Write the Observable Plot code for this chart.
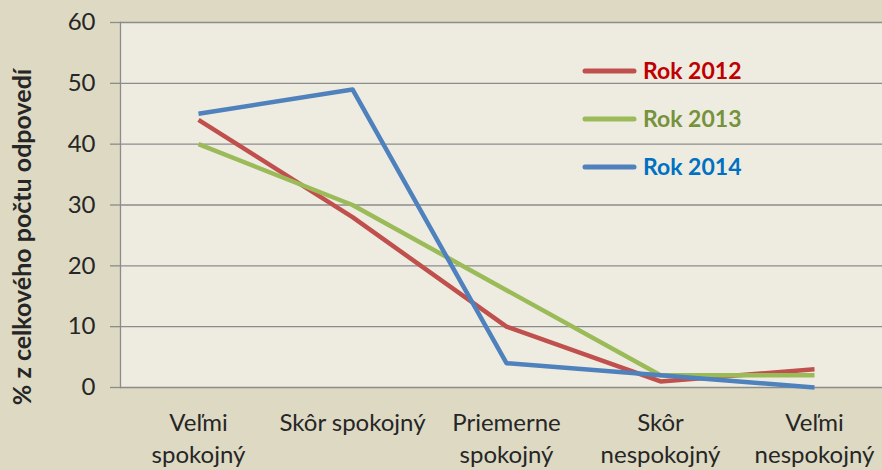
<!DOCTYPE html>
<html><head><meta charset="utf-8">
<script src="https://cdn.jsdelivr.net/npm/d3@7"></script>
<script src="https://cdn.jsdelivr.net/npm/@observablehq/plot@0.6"></script>
<style>
html,body{margin:0;padding:0;background:#DDD9C3;}
svg{display:block;}
</style>
</head><body>
<div id="chart"></div>
<script>
const categories = ["Veľmi spokojný","Skôr spokojný","Priemerne spokojný","Skôr nespokojný","Veľmi nespokojný"];
const categoryLabels = ["Veľmi\nspokojný","Skôr spokojný","Priemerne\nspokojný","Skôr\nnespokojný","Veľmi\nnespokojný"];
const years = ["Rok 2012","Rok 2013","Rok 2014"];
const values2012 = [44, 28, 10, 1, 3];
const values2013 = [40, 30, 16, 2, 2];
const values2014 = [45, 49, 4, 2, 0];
const yTicks = [0,10,20,30,40,50,60];
const lineColors = ["#C0504D","#9BBB59","#4F81BD"];
const textColors = ["#C00000","#76923C","#0070C0"];

const series = [values2012, values2013, values2014];
const data = [];
series.forEach((vals, i) => vals.forEach((v, j) => data.push({year: years[i], cat: categories[j], value: v})));

const font = "Lato, 'Open Sans', sans-serif";
const chart = Plot.plot({
  width: 882, height: 470,
  marginLeft: 120, marginRight: 0, marginTop: 22, marginBottom: 83,
  style: {background: "#DDD9C3", fontFamily: font, fontSize: "24px", color: "#262626", overflow: "visible"},
  x: {type: "point", domain: categories, range: [197, 815], padding: 0},
  y: {domain: [0, 60], ticks: yTicks},
  color: {domain: years, range: lineColors},
  marks: [
    Plot.frame({fill: "#EEECE1", stroke: null}),
    Plot.ruleY(yTicks, {stroke: "#8C8C8C", strokeWidth: 1.3}),
    Plot.frame({anchor: "left", stroke: "#8C8C8C", strokeWidth: 1.3}),
    Plot.axisY({ticks: yTicks, tickSize: 10, tickPadding: 15, stroke: "#8C8C8C", strokeWidth: 1.3, label: null, fill: "#262626", fontSize: 24}),
    Plot.axisX({tickSize: 0, tickPadding: 21, label: null, tickFormat: (d) => categoryLabels[categories.indexOf(d)], lineHeight: 1.33, fill: "#262626", fontSize: 24}),
    Plot.line(data, {x: "cat", y: "value", z: "year", stroke: "year", strokeWidth: 4.5, strokeLinejoin: "round", strokeLinecap: "butt"})
  ]
});
document.getElementById("chart").appendChild(chart);

const svg = d3.select(chart);
svg.append("text")
  .attr("transform", "translate(31,237) rotate(-90)")
  .attr("text-anchor", "middle")
  .attr("font-family", font).attr("font-weight", "bold").attr("font-size", 25)
  .attr("fill", "#262626")
  .text("% z celkového počtu odpovedí");

const leg = svg.append("g");
years.forEach((y, i) => {
  const cy = 71 + i * 48;
  leg.append("line").attr("x1", 585).attr("x2", 634).attr("y1", cy).attr("y2", cy)
    .attr("stroke", lineColors[i]).attr("stroke-width", 5).attr("stroke-linecap", "round");
  leg.append("text").attr("x", 643).attr("y", cy).attr("dy", "0.36em")
    .attr("text-anchor", "start")
    .attr("font-family", font).attr("font-weight", "bold").attr("font-size", 23)
    .attr("fill", textColors[i]).text(y);
});
</script>
</body></html>
